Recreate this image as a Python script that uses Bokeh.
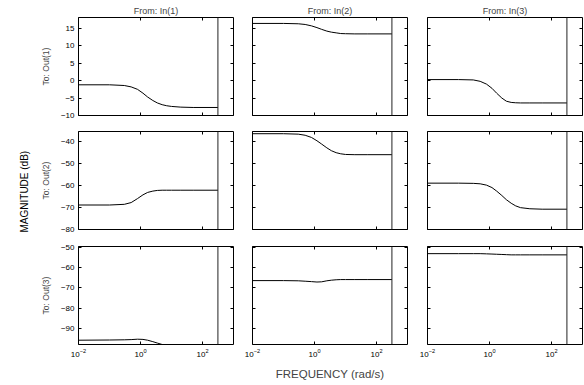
import math
from bokeh.plotting import figure
from bokeh.layouts import gridplot
from bokeh.models import Range1d, FixedTicker, LinearAxis, LogAxis, Span, Title
from bokeh.embed import file_html
from bokeh.resources import INLINE

# ---------------- data ----------------
inputs = ["In(1)", "In(2)", "In(3)"]
outputs = ["Out(1)", "Out(2)", "Out(3)"]

freq = [0.01, 0.1, 0.3, 0.5, 0.8, 1.2, 1.7, 2.5, 3.5, 5, 7, 10, 20, 50, 314.16]
nyquist = 314.16

mag_o1_i1 = [-1.2, -1.2, -1.4, -1.8, -2.5, -3.6, -4.7, -5.7, -6.4, -6.9, -7.2, -7.4, -7.6, -7.7, -7.7]
mag_o1_i2 = [16.4, 16.4, 16.3, 16.1, 15.7, 15.2, 14.7, 14.2, 13.9, 13.7, 13.5, 13.45, 13.4, 13.4, 13.4]
mag_o1_i3 = [0.3, 0.3, 0.2, -0.2, -1.0, -2.2, -3.6, -5.0, -5.9, -6.25, -6.35, -6.4, -6.4, -6.4, -6.4]
mag_o2_i1 = [-68.9, -68.9, -68.6, -67.8, -66.0, -64.3, -63.2, -62.6, -62.3, -62.2, -62.2, -62.2, -62.2, -62.2, -62.2]
mag_o2_i2 = [-36.6, -36.6, -36.8, -37.3, -38.3, -39.8, -41.3, -43.0, -44.3, -45.2, -45.7, -46.0, -46.1, -46.1, -46.1]
mag_o2_i3 = [-59.0, -59.0, -59.1, -59.3, -59.9, -61.0, -62.6, -64.6, -66.5, -68.1, -69.3, -70.1, -70.6, -70.8, -70.8]
mag_o3_i1 = [-95.6, -95.5, -95.4, -95.3, -95.1, -95.2, -95.6, -96.3, -97.0, -97.7, -98.3, -98.8, -99.5, -100.0, -100.5]
mag_o3_i2 = [-66.4, -66.4, -66.5, -66.7, -66.9, -67.1, -67.0, -66.5, -66.2, -66.0, -65.9, -65.9, -65.9, -65.9, -65.9]
mag_o3_i3 = [-53.2, -53.2, -53.2, -53.2, -53.3, -53.4, -53.5, -53.6, -53.7, -53.8, -53.8, -53.8, -53.8, -53.8, -53.8]

mags = [[mag_o1_i1, mag_o1_i2, mag_o1_i3],
        [mag_o2_i1, mag_o2_i2, mag_o2_i3],
        [mag_o3_i1, mag_o3_i2, mag_o3_i3]]

x_limits = (0.01, 1000)
x_ticks = [0.01, 1, 100]
y_limits = [(-10, 18.1), (-80, -35.6), (-97.7, -49.7)]
y_ticks = [[-10, -5, 0, 5, 10, 15], [-80, -70, -60, -50, -40], [-90, -80, -70, -60, -50]]

ylabel_text = "MAGNITUDE (dB)"
xlabel_text = "FREQUENCY (rad/s)"

# ---------------- layout ----------------
FONT = "Liberation Sans"
FW, FH = 155, 98
col_left = [47, 14, 15]
col_right = [5, 5, 2]
row_top = [17, 10, 10]
row_bottom = [6, 7, 38]


def minus(v):
    return str(v).replace("-", "\u2212")


def style_axis(ax, show_labels):
    ax.axis_line_color = None
    ax.major_tick_in = 3
    ax.major_tick_out = 0
    ax.major_tick_line_color = "black"
    ax.major_tick_line_width = 1
    ax.minor_tick_line_color = None
    ax.major_label_text_font = FONT
    if show_labels:
        ax.major_label_text_color = "black"
        ax.major_label_text_font_size = "8px"
        ax.major_label_standoff = 4
    else:
        ax.major_label_text_color = None
        ax.major_label_text_font_size = "1px"
        ax.major_label_standoff = 0


grid_rows = []
for r in range(3):
    row = []
    # narrow left column holding the shared y label (middle row only)
    if r == 1:
        q = figure(x_range=Range1d(0, 1), y_range=Range1d(*y_limits[r]),
                   frame_width=2, frame_height=FH,
                   min_border_left=29, min_border_right=0,
                   min_border_top=row_top[r], min_border_bottom=row_bottom[r],
                   x_axis_location=None, y_axis_location=None,
                   output_backend="svg", toolbar_location=None)
        q.outline_line_color = None
        q.grid.visible = False
        q.background_fill_color = "white"
        q.border_fill_color = "white"
        q.add_layout(Title(text=ylabel_text, align="left", offset=-3, standoff=0,
                           text_font=FONT, text_font_size="10px",
                           text_font_style="normal", text_color="black"), "left")
        row.append(q)
    else:
        row.append(None)

    for c in range(3):
        kw = {}
        if r == 0:
            kw["title"] = "From: " + inputs[c]
        p = figure(
            x_axis_type="log",
            x_range=Range1d(*x_limits),
            y_range=Range1d(*y_limits[r]),
            frame_width=FW, frame_height=FH,
            min_border_left=col_left[c], min_border_right=col_right[c],
            min_border_top=row_top[r], min_border_bottom=row_bottom[r],
            output_backend="svg", toolbar_location=None, **kw
        )
        p.background_fill_color = "white"
        p.border_fill_color = "white"
        p.outline_line_color = "black"
        p.outline_line_width = 1
        p.grid.visible = False

        if r == 0:
            p.title.align = "center"
            p.title.text_font = FONT
            p.title.text_font_size = "9px"
            p.title.text_font_style = "normal"
            p.title.standoff = 3

        xa = p.xaxis[0]
        xa.ticker = FixedTicker(ticks=x_ticks)
        style_axis(xa, r == 2)
        ya = p.yaxis[0]
        ya.ticker = FixedTicker(ticks=y_ticks[r])
        ya.major_label_overrides = {t: minus(t) for t in y_ticks[r]}
        style_axis(ya, c == 0)
        if c == 0:
            ya.axis_label = "To: " + outputs[r]
            ya.axis_label_text_font = FONT
            ya.axis_label_text_font_size = "8.5px"
            ya.axis_label_text_font_style = "normal"
            ya.axis_label_standoff = 7
        if r == 2 and c == 1:
            xa.axis_label = xlabel_text
            xa.axis_label_text_font = FONT
            xa.axis_label_text_font_size = "11.5px"
            xa.axis_label_text_font_style = "normal"
            xa.axis_label_standoff = 8

        ta = LogAxis(ticker=FixedTicker(ticks=x_ticks))
        style_axis(ta, False)
        p.add_layout(ta, "above")
        ra = LinearAxis(ticker=FixedTicker(ticks=y_ticks[r]))
        style_axis(ra, False)
        p.add_layout(ra, "right")

        p.line(freq, mags[r][c], line_color="black", line_width=1)
        p.add_layout(Span(location=nyquist, dimension="height",
                          line_color="#222222", line_width=1))
        row.append(p)
    grid_rows.append(row)

grid = gridplot(grid_rows, toolbar_location=None)

open("out.html", "w").write(file_html(grid, INLINE))
